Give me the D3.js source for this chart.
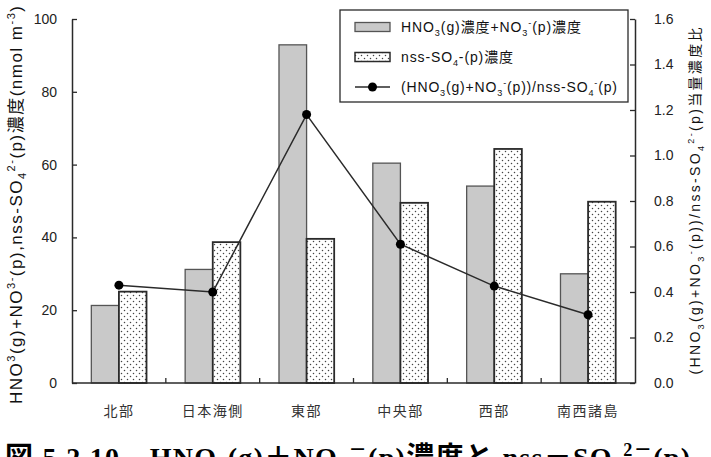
<!DOCTYPE html>
<html lang="ja">
<head>
<meta charset="UTF-8">
<title>HNO3 + NO3 / nss-SO4</title>
<script src="https://d3js.org/d3.v7.min.js"></script>
<style>
  body { margin: 0; background: #fff; }
  svg { display: block; font-family: "Liberation Sans", Arial, "Noto Sans CJK JP", sans-serif; }
  .cat { font-family: "Noto Sans CJK JP", sans-serif; }
</style>
</head>
<body>
<svg id="chart" width="711" height="457"></svg>
<script>
// data
const regions = ["北部", "日本海側", "東部", "中央部", "西部", "南西諸島"];
const hno3Total = [21.3, 31.2, 92.9, 60.4, 54.1, 30.0];   // HNO3(g)+NO3-(p) nmol m-3
const nssSO4 = [25.1, 38.7, 39.6, 49.5, 64.3, 49.8];      // nss-SO4 nmol m-3
const ratio = [0.43, 0.40, 1.18, 0.61, 0.426, 0.30];      // equivalent ratio
const leftTicks = [0, 20, 40, 60, 80, 100];
const rightTicks = [0, 0.2, 0.4, 0.6, 0.8, 1.0, 1.2, 1.4, 1.6];

const svg = d3.select("#chart");
const mLeft = 72, mRight = 635, mTop = 19, mBottom = 383;
const ink = "#2a2a2a";

// dotted fill
const defs = svg.append("defs");
const pat = defs.append("pattern").attr("id", "dots")
  .attr("patternUnits", "userSpaceOnUse").attr("width", 6).attr("height", 6);
pat.append("rect").attr("width", 6).attr("height", 6).attr("fill", "#fff");
pat.append("circle").attr("cx", 1.5).attr("cy", 1.5).attr("r", 0.75).attr("fill", "#444");
pat.append("circle").attr("cx", 4.5).attr("cy", 4.5).attr("r", 0.75).attr("fill", "#444");

const x = d3.scaleBand().domain(regions).range([mLeft, mRight]);
const x1 = d3.scaleBand().domain(["a", "b"]).range([0, x.bandwidth()]).paddingOuter(0.7);
const yL = d3.scaleLinear().domain([0, 100]).range([mBottom, mTop]);
const yR = d3.scaleLinear().domain([0, 1.6]).range([mBottom, mTop]);

// bars
const g = svg.append("g");
g.selectAll(".barA").data(regions).join("rect")
  .attr("x", (d) => x(d) + x1("a")).attr("width", x1.bandwidth())
  .attr("y", (d, i) => yL(hno3Total[i])).attr("height", (d, i) => mBottom - yL(hno3Total[i]))
  .attr("fill", "#c9c9c9").attr("stroke", "#555").attr("stroke-width", 1.3);
g.selectAll(".barB").data(regions).join("rect")
  .attr("x", (d) => x(d) + x1("b")).attr("width", x1.bandwidth())
  .attr("y", (d, i) => yL(nssSO4[i])).attr("height", (d, i) => mBottom - yL(nssSO4[i]))
  .attr("fill", "url(#dots)").attr("stroke", ink).attr("stroke-width", 1.8);

// axes
const axL = svg.append("g").attr("transform", `translate(${mLeft},0)`)
  .call(d3.axisLeft(yL).tickValues(leftTicks).tickSize(-5).tickPadding(15).tickSizeOuter(0));
const axR = svg.append("g").attr("transform", `translate(${mRight},0)`)
  .call(d3.axisRight(yR).tickValues(rightTicks).tickSize(-5).tickPadding(19).tickSizeOuter(0)
    .tickFormat(d3.format(".1f")));
[axL, axR].forEach((a) => {
  a.select(".domain").attr("stroke", ink).attr("stroke-width", 1.5);
  a.selectAll(".tick line").attr("stroke", ink).attr("stroke-width", 1.3);
  a.selectAll(".tick text").attr("font-size", 14).attr("fill", "#222")
    .attr("font-family", "Liberation Sans, Arial, sans-serif");
});

// bottom axis: boundary ticks pointing up, labels centred
svg.append("line").attr("x1", mLeft).attr("x2", mRight).attr("y1", mBottom).attr("y2", mBottom)
  .attr("stroke", ink).attr("stroke-width", 1.5);
svg.selectAll(".btick").data(regions.slice(1)).join("line")
  .attr("x1", (d) => x(d)).attr("x2", (d) => x(d))
  .attr("y1", mBottom).attr("y2", mBottom - 5).attr("stroke", ink).attr("stroke-width", 1.3);
svg.selectAll(".cat").data(regions).join("text").attr("class", "cat")
  .attr("x", (d) => x(d) + x.bandwidth() / 2).attr("y", 416)
  .attr("text-anchor", "middle").attr("font-size", 14).attr("letter-spacing", 1.5)
  .attr("fill", "#333").text((d) => d);

// ratio line
const cx = (d) => x(d) + x.bandwidth() / 2;
svg.append("path").datum(regions)
  .attr("d", d3.line().x(cx).y((d, i) => yR(ratio[i])))
  .attr("fill", "none").attr("stroke", ink).attr("stroke-width", 1.5);
svg.selectAll(".pt").data(regions).join("circle")
  .attr("cx", cx).attr("cy", (d, i) => yR(ratio[i])).attr("r", 4.5).attr("fill", "#000");

// rich text with sub/superscripts: parts are [text, kind]
function richText(sel, parts, size) {
  let cur = 0;
  parts.forEach(([t, k]) => {
    let target = 0;
    if (k === "sup") target = -size * 0.4;
    if (k === "sub") target = size * 0.25;
    const s = sel.append("tspan").text(t).attr("dy", target - cur);
    if (k) s.attr("font-size", size * 0.65);
    cur = target;
  });
}

// left axis title
const lt = svg.append("text").attr("transform", "translate(22,205) rotate(-90)")
  .attr("text-anchor", "middle").attr("font-size", 17).attr("fill", "#111")
  .attr("textLength", 398).attr("lengthAdjust", "spacing");
richText(lt, [["HNO"], ["3", "sup"], ["(g)+NO"], ["3-", "sup"], ["(p),nss-SO"], ["4", "sub"], ["2-", "sup"],
  ["(p)濃度(nmol m"], ["-3", "sup"], [")"]], 17);

// right axis title
const rt = svg.append("text").attr("transform", "translate(700,201) rotate(-90)")
  .attr("text-anchor", "middle").attr("font-size", 14).attr("fill", "#111")
  .attr("textLength", 347).attr("lengthAdjust", "spacing");
richText(rt, [["(HNO"], ["3", "sub"], ["(g)+NO"], ["3", "sub"], ["-", "sup"], ["(p))/nss-SO"], ["4", "sub"], ["2-", "sup"],
  ["(p)当量濃度比"]], 14);

// legend
const lg = svg.append("g");
lg.append("rect").attr("x", 340).attr("y", 10).attr("width", 288).attr("height", 92)
  .attr("fill", "#fff").attr("stroke", ink).attr("stroke-width", 1.3);
const rowsY = [27, 57, 87];
lg.append("rect").attr("x", 355).attr("y", rowsY[0] - 4.5).attr("width", 35).attr("height", 9)
  .attr("fill", "#c9c9c9").attr("stroke", "#555").attr("stroke-width", 1.3);
lg.append("rect").attr("x", 355).attr("y", rowsY[1] - 4.5).attr("width", 35).attr("height", 9)
  .attr("fill", "url(#dots)").attr("stroke", ink).attr("stroke-width", 1.5);
lg.append("line").attr("x1", 355).attr("x2", 390).attr("y1", rowsY[2]).attr("y2", rowsY[2])
  .attr("stroke", ink).attr("stroke-width", 1.5);
lg.append("circle").attr("cx", 372.5).attr("cy", rowsY[2]).attr("r", 4.5).attr("fill", "#000");
const legParts = [
  [["HNO"], ["3", "sub"], ["(g)濃度+NO"], ["3", "sub"], ["-", "sup"], ["(p)濃度"]],
  [["nss-SO"], ["4", "sub"], ["-(p)濃度"]],
  [["(HNO"], ["3", "sub"], ["(g)+NO"], ["3", "sub"], ["-", "sup"], ["(p))/nss-SO"], ["4", "sub"], ["-", "sup"], ["(p)"]]
];
const legLen = [180, 112, 216];
legParts.forEach((p, i) => {
  const t = lg.append("text").attr("x", 401).attr("y", rowsY[i] + 5)
    .attr("font-size", 14).attr("fill", "#111")
    .attr("textLength", legLen[i]).attr("lengthAdjust", "spacing");
  richText(t, p, 14);
});

// caption (clipped at bottom of picture, as in the source)
const cap = svg.append("text").attr("x", 5).attr("y", 467)
  .attr("font-size", 28).attr("font-weight", "bold").attr("fill", "#000")
  .attr("font-family", "Liberation Serif, 'Noto Sans CJK JP', serif")
  .attr("textLength", 685).attr("lengthAdjust", "spacing");
richText(cap, [["図 5.2.10　HNO"], ["3", "sub"], ["(g)＋NO"], ["3", "sub"], ["－", "sup"], ["(p)濃度と nss－SO"], ["4", "sub"], ["2－", "sup"], ["(p)"]], 28);
</script>
</body>
</html>
